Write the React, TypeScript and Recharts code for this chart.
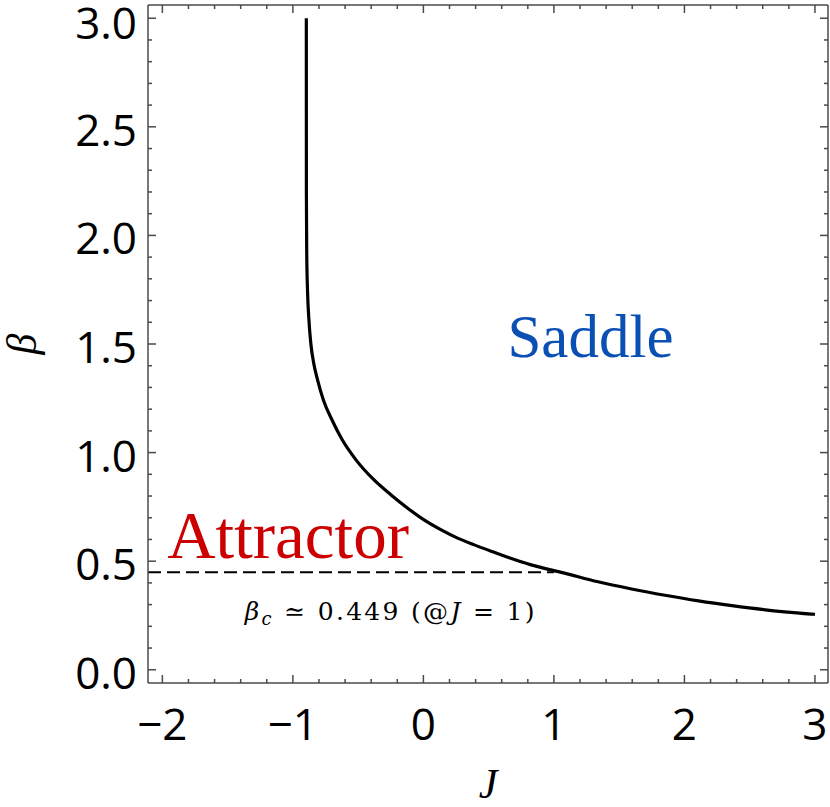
import React from "react";
import { Line, LineChart, ReferenceDot, XAxis, YAxis } from "recharts";

// curve (J, beta)
const jValues = [
  -0.897, -0.8965, -0.894, -0.888, -0.878, -0.862, -0.84, -0.811, -0.765, -0.7,
  -0.623, -0.521, -0.38, -0.252, -0.123, 0.005, 0.133, 0.262, 0.39, 0.518,
  0.646, 0.825, 1.082, 1.338, 1.595, 1.851, 2.108, 2.364, 2.62, 2.98, 3.0,
];
const betaValues = [
  3.0, 2.2, 1.93, 1.75, 1.62, 1.5, 1.41, 1.335, 1.24, 1.15,
  1.06, 0.97, 0.875, 0.807, 0.745, 0.69, 0.645, 0.606, 0.575, 0.546,
  0.518, 0.483, 0.445, 0.405, 0.372, 0.343, 0.317, 0.295, 0.276, 0.256, 0.255,
];
const betaC = 0.449;
const dashJ = [-2.11, 1];

const xMajor = [-2, -1, 0, 1, 2, 3];
const yMajor = [0, 0.5, 1, 1.5, 2, 2.5, 3];
const xDomain = [-2.11, 3.1];
const yDomain = [-0.061, 3.061];

const curve = jValues.map((J, i) => ({ J, beta: betaValues[i] }));
const dashed = dashJ.map((J) => ({ J, beta: betaC }));

// minor ticks: 0.2 on x, 0.1 on y
const xTicks: number[] = [];
for (let i = 0; i <= 25; i++) xTicks.push(Math.round((-2 + i * 0.2) * 10) / 10);
const yTicks: number[] = [];
for (let i = 0; i <= 30; i++) yTicks.push(Math.round(i * 0.1 * 10) / 10);

const frame = "#4a4a4a";
const tickFont = "'Open Sans', sans-serif";
const serif = "'Liberation Serif', 'DejaVu Serif', serif";

const isMajor = (v: number, list: number[]) => list.some((m) => Math.abs(m - v) < 1e-6);
const fmtX = (v: number) => (v < 0 ? "\u2212" + Math.abs(v) : String(v));

const BottomTick = (p: any) => {
  const v = p.payload.value;
  const major = isMajor(v, xMajor);
  return (
    <g>
      <line x1={p.x} x2={p.x} y1={p.y} y2={p.y - (major ? 8 : 4)} stroke={frame} strokeWidth={1.5} />
      {major && (
        <text x={p.x} y={p.y + 57} textAnchor="middle" fontFamily={tickFont} fontSize={44} fill="#000">
          {fmtX(v)}
        </text>
      )}
    </g>
  );
};

const TopTick = (p: any) => {
  const major = isMajor(p.payload.value, xMajor);
  return <line x1={p.x} x2={p.x} y1={p.y} y2={p.y + (major ? 8 : 4)} stroke={frame} strokeWidth={1.5} />;
};

const LeftTick = (p: any) => {
  const v = p.payload.value;
  const major = isMajor(v, yMajor);
  // the top label sits a little lower so it stays inside the picture
  const dy = v > 2.9 ? 21 : 19;
  return (
    <g>
      <line x1={p.x} x2={p.x + (major ? 8 : 4)} y1={p.y} y2={p.y} stroke={frame} strokeWidth={1.5} />
      {major && (
        <text x={p.x - 11} y={p.y + dy} textAnchor="end" fontFamily={tickFont} fontSize={44} fill="#000">
          {v.toFixed(1)}
        </text>
      )}
    </g>
  );
};

const RightTick = (p: any) => {
  const major = isMajor(p.payload.value, yMajor);
  return <line x1={p.x} x2={p.x - (major ? 8 : 4)} y1={p.y} y2={p.y} stroke={frame} strokeWidth={1.5} />;
};

const App = () => {
  return (
    <div style={{ position: "absolute", left: 0, top: 0, background: "#fff" }}>
      <LineChart width={830} height={807} margin={{ top: 4, right: 1, bottom: 123, left: 147 }}>
        <XAxis
          dataKey="J"
          type="number"
          domain={xDomain}
          allowDataOverflow
          ticks={xTicks}
          interval={0}
          height={1}
          tickSize={0}
          tickMargin={0}
          tick={BottomTick}
          axisLine={{ stroke: frame, strokeWidth: 1.5 }}
          label={(p: any) => (
            <text
              x={p.viewBox.x + p.viewBox.width / 2}
              y={p.viewBox.y + 115}
              textAnchor="middle"
              fontFamily={serif}
              fontStyle="italic"
              fontSize={42}
            >
              J
            </text>
          )}
        />
        <XAxis
          xAxisId="top"
          orientation="top"
          dataKey="J"
          type="number"
          domain={xDomain}
          allowDataOverflow
          ticks={xTicks}
          interval={0}
          height={1}
          tickSize={0}
          tickMargin={0}
          tick={TopTick}
          axisLine={{ stroke: frame, strokeWidth: 1.5 }}
        />
        <YAxis
          type="number"
          domain={yDomain}
          allowDataOverflow
          ticks={yTicks}
          interval={0}
          width={1}
          tickSize={0}
          tickMargin={0}
          tick={LeftTick}
          axisLine={{ stroke: frame, strokeWidth: 1.5 }}
          label={(p: any) => {
            const cy = p.viewBox.y + p.viewBox.height / 2;
            return (
              <text
                x={36}
                y={cy}
                transform={`rotate(-90 36 ${cy})`}
                textAnchor="middle"
                fontFamily={serif}
                fontStyle="italic"
                fontSize={42}
              >
                β
              </text>
            );
          }}
        />
        <YAxis
          yAxisId="right"
          orientation="right"
          type="number"
          domain={yDomain}
          allowDataOverflow
          ticks={yTicks}
          interval={0}
          width={1}
          tickSize={0}
          tickMargin={0}
          tick={RightTick}
          axisLine={{ stroke: frame, strokeWidth: 1.5 }}
        />
        <Line
          data={dashed}
          dataKey="beta"
          type="linear"
          stroke="#000"
          strokeWidth={2.2}
          strokeDasharray="13 6"
          dot={false}
          isAnimationActive={false}
        />
        <Line
          data={curve}
          dataKey="beta"
          type="monotone"
          stroke="#000"
          strokeWidth={3.2}
          dot={false}
          isAnimationActive={false}
        />
        <ReferenceDot
          x={1.28}
          y={1.5}
          r={0}
          shape={(p: any) => (
            <text x={p.cx} y={p.cy + 13} textAnchor="middle" fontFamily={serif} fontSize={61} fill="#0a4fb4">
              Saddle
            </text>
          )}
        />
        <ReferenceDot
          x={-1.037}
          y={0.6}
          r={0}
          shape={(p: any) => (
            <text x={p.cx} y={p.cy + 19} textAnchor="middle" fontFamily={serif} fontSize={67} fill="#cc0000">
              Attractor
            </text>
          )}
        />
        <ReferenceDot
          x={-0.25}
          y={0.25}
          r={0}
          shape={(p: any) => (
            <text
              x={p.cx}
              y={p.cy + 5}
              textAnchor="middle"
              fontFamily="'DejaVu Serif', serif"
              fontSize={25}
              letterSpacing={2.3}
              fill="#000"
            >
              <tspan fontStyle="italic">β</tspan>
              <tspan fontStyle="italic" fontSize={18} dy={5}>c</tspan>
              <tspan dy={-5}> ≃ 0.449 (@</tspan>
              <tspan fontStyle="italic">J</tspan>
              <tspan> = 1)</tspan>
            </text>
          )}
        />
      </LineChart>
    </div>
  );
};

export default App;
